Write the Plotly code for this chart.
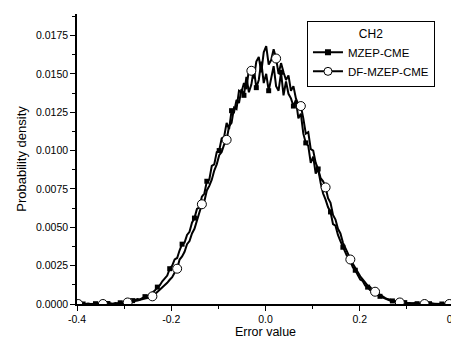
import plotly.graph_objects as go

# Histogram bin centres (error value)
error_value = [
    -0.39750, -0.39225, -0.38700, -0.38175, -0.37650, -0.37125, -0.36600, -0.36075, -0.35550, -0.35025,
    -0.34500, -0.33975, -0.33450, -0.32925, -0.32400, -0.31875, -0.31350, -0.30825, -0.30300, -0.29775,
    -0.29250, -0.28725, -0.28200, -0.27675, -0.27150, -0.26625, -0.26100, -0.25575, -0.25050, -0.24525,
    -0.24000, -0.23475, -0.22950, -0.22425, -0.21900, -0.21375, -0.20850, -0.20325, -0.19800, -0.19275,
    -0.18750, -0.18225, -0.17700, -0.17175, -0.16650, -0.16125, -0.15600, -0.15075, -0.14550, -0.14025,
    -0.13500, -0.12975, -0.12450, -0.11925, -0.11400, -0.10875, -0.10350, -0.09825, -0.09300, -0.08775,
    -0.08250, -0.07725, -0.07200, -0.06675, -0.06150, -0.05625, -0.05100, -0.04575, -0.04050, -0.03525,
    -0.03000, -0.02475, -0.01950, -0.01425, -0.00900, -0.00375, 0.00150, 0.00675, 0.01200, 0.01725,
    0.02250, 0.02775, 0.03300, 0.03825, 0.04350, 0.04875, 0.05400, 0.05925, 0.06450, 0.06975,
    0.07500, 0.08025, 0.08550, 0.09075, 0.09600, 0.10125, 0.10650, 0.11175, 0.11700, 0.12225,
    0.12750, 0.13275, 0.13800, 0.14325, 0.14850, 0.15375, 0.15900, 0.16425, 0.16950, 0.17475,
    0.18000, 0.18525, 0.19050, 0.19575, 0.20100, 0.20625, 0.21150, 0.21675, 0.22200, 0.22725,
    0.23250, 0.23775, 0.24300, 0.24825, 0.25350, 0.25875, 0.26400, 0.26925, 0.27450, 0.27975,
    0.28500, 0.29025, 0.29550, 0.30075, 0.30600, 0.31125, 0.31650, 0.32175, 0.32700, 0.33225,
    0.33750, 0.34275, 0.34800, 0.35325, 0.35850, 0.36375, 0.36900, 0.37425, 0.37950, 0.38475,
    0.39000, 0.39525,
]

mzep_cme = [
    0, 0.00002, 0, 0, 0.00003, 0, 0, 0.00002, 0, 0.00004,
    0, 0, 0.00003, 0.00005, 0.00002, 0.00006, 0.00004, 0.00008, 0.0001, 0.00009,
    0.00015, 0.00014, 0.00022, 0.00025, 0.00032, 0.0003, 0.00042, 0.00048, 0.00052, 0.00066,
    0.00075, 0.00088, 0.0011, 0.00122, 0.00148, 0.0017, 0.00185, 0.0023, 0.0025, 0.0029,
    0.0030, 0.0035, 0.0039, 0.0040, 0.0045, 0.0047, 0.0053, 0.0056, 0.0062, 0.0063,
    0.0070, 0.0072, 0.0080, 0.0081, 0.0090, 0.0091, 0.0099, 0.0100, 0.0108, 0.0109,
    0.0118, 0.0114, 0.0126, 0.0125, 0.0133, 0.0131, 0.0140, 0.0136, 0.0148, 0.0138,
    0.0143, 0.0153, 0.0141, 0.0146, 0.0158, 0.0144, 0.0150, 0.0139, 0.0147, 0.0155,
    0.0142, 0.0139, 0.0151, 0.0136, 0.0145, 0.0137, 0.0134, 0.0129, 0.0133, 0.0121,
    0.0124, 0.0111, 0.0105, 0.0103, 0.0092, 0.0096, 0.0085, 0.0088, 0.0079, 0.0072,
    0.0068, 0.0063, 0.0060, 0.0052, 0.0051, 0.0045, 0.0041, 0.0037, 0.0034, 0.0030,
    0.0028, 0.0024, 0.0022, 0.0019, 0.0016, 0.0015, 0.0012, 0.0011, 0.0009, 0.00085,
    0.0007, 0.00058, 0.0005, 0.00042, 0.00035, 0.0003, 0.00022, 0.0002, 0.00015, 0.00014,
    0.0001, 0.00007, 0.00009, 0.00005, 0.00007, 0.00003, 0.00006, 0.00002, 0.00004, 0,
    0.00003, 0, 0.00002, 0.00004, 0, 0, 0.00003, 0, 0, 0.00002,
    0, 0,
]

df_mzep_cme = [
    0, 0, 0, 0, 0, 0, 0.00002, 0, 0, 0,
    0, 0.00002, 0, 0, 0.00003, 0.00002, 0.00005, 0.00003, 0.00006, 0.00008,
    0.0001, 0.00012, 0.00016, 0.00019, 0.00022, 0.00028, 0.00031, 0.00036, 0.0004, 0.00047,
    0.0005, 0.00063, 0.00078, 0.00088, 0.00104, 0.00118, 0.00138, 0.00158, 0.00175, 0.00205,
    0.0023, 0.0029, 0.0031, 0.0034, 0.0039, 0.0041, 0.0046, 0.0049, 0.0054, 0.0060,
    0.0065, 0.0067, 0.0074, 0.0077, 0.0081, 0.0087, 0.0091, 0.0097, 0.0099, 0.0104,
    0.0107, 0.0116, 0.0118, 0.0128, 0.0127, 0.0139, 0.0138, 0.0144, 0.0140, 0.0153,
    0.0152, 0.0147, 0.0158, 0.0161, 0.0151, 0.0164, 0.0168, 0.0156, 0.0159, 0.0166,
    0.0160, 0.0150, 0.0157, 0.0151, 0.0146, 0.0149, 0.0139, 0.0142, 0.0134, 0.0130,
    0.0129, 0.0121, 0.0111, 0.0112, 0.0101, 0.0100, 0.0092, 0.0088, 0.0082, 0.0080,
    0.0076, 0.0069, 0.0066, 0.0058, 0.0055, 0.0049, 0.0046, 0.0040, 0.0037, 0.0033,
    0.0029, 0.0026, 0.0023, 0.0021, 0.0018, 0.0016, 0.0014, 0.0012, 0.0011, 0.0009,
    0.0008, 0.0007, 0.00055, 0.0005, 0.0004, 0.00032, 0.00028, 0.0002, 0.00018, 0.00012,
    0.0001, 0.00008, 0.00005, 0.00006, 0.00003, 0.00005, 0.00002, 0.00004, 0, 0.00002,
    0, 0.00003, 0, 0, 0.00002, 0, 0, 0, 0.00002, 0,
    0, 0,
]

# indices of points that carry symbols (Origin-style sparse markers)
mzep_marker_idx = list(range(2, len(error_value), 5))
df_marker_idx = list(range(0, len(error_value), 10))

y_ticks = [0.0, 0.0025, 0.005, 0.0075, 0.01, 0.0125, 0.015, 0.0175]
x_ticks = [-0.4, -0.2, 0.0, 0.2, 0.4]

FONT = "Liberation Sans, Arial, sans-serif"

fig = go.Figure()

fig.add_trace(go.Scatter(x=error_value, y=mzep_cme, mode="lines",
                         line=dict(color="black", width=2), showlegend=False, hoverinfo="skip"))
fig.add_trace(go.Scatter(x=error_value, y=df_mzep_cme, mode="lines",
                         line=dict(color="black", width=2), showlegend=False, hoverinfo="skip"))
fig.add_trace(go.Scatter(x=[error_value[i] for i in mzep_marker_idx],
                         y=[mzep_cme[i] for i in mzep_marker_idx], mode="markers",
                         marker=dict(symbol="square", size=5, color="black"),
                         showlegend=False, hoverinfo="skip"))
fig.add_trace(go.Scatter(x=[error_value[i] for i in df_marker_idx],
                         y=[df_mzep_cme[i] for i in df_marker_idx], mode="markers",
                         marker=dict(symbol="circle", size=9, color="white",
                                     line=dict(color="black", width=1)),
                         showlegend=False, hoverinfo="skip"))

# legend entries
fig.add_trace(go.Scatter(x=[None], y=[None], mode="lines+markers", name="MZEP-CME",
                         line=dict(color="black", width=2),
                         marker=dict(symbol="square", size=6, color="black")))
fig.add_trace(go.Scatter(x=[None], y=[None], mode="lines+markers", name="DF-MZEP-CME",
                         line=dict(color="black", width=2),
                         marker=dict(symbol="circle", size=8, color="white",
                                     line=dict(color="black", width=1))))

fig.update_layout(
    width=459, height=343,
    margin=dict(l=69, r=13, t=6, b=47, autoexpand=False),
    paper_bgcolor="white", plot_bgcolor="white",
    font=dict(family=FONT, size=11, color="black"),
    showlegend=True,
    legend=dict(
        title=dict(text="CH2", font=dict(size=12), side="top center"),
        x=0.61, y=0.975, xanchor="left", yanchor="top",
        bordercolor="black", borderwidth=1, bgcolor="white",
        font=dict(size=11.5), tracegroupgap=0, itemwidth=30,
    ),
    xaxis=dict(
        range=[-0.4, 0.4], tickvals=x_ticks, ticktext=[f"{v:.1f}" for v in x_ticks],
        showline=True, linecolor="black", linewidth=1.5, mirror=False,
        ticks="outside", ticklen=5, tickwidth=1.2, tickcolor="black",
        minor=dict(dtick=0.1, tick0=-0.4, ticks="outside", ticklen=3, tickcolor="black"),
        showgrid=False, zeroline=False,
        title=dict(text="Error value", font=dict(size=12.5), standoff=3),
        tickfont=dict(size=10.5),
    ),
    yaxis=dict(
        range=[0, 0.0189], tickvals=y_ticks, ticktext=[f"{v:.4f}" for v in y_ticks],
        showline=True, linecolor="black", linewidth=1.5, mirror=False,
        ticks="outside", ticklen=5, tickwidth=1.2, tickcolor="black",
        minor=dict(dtick=0.00125, tick0=0, ticks="outside", ticklen=3, tickcolor="black"),
        showgrid=False, zeroline=False,
        title=dict(text="Probability density", font=dict(size=13), standoff=6),
        tickfont=dict(size=10.5),
    ),
)

fig.write_html("out.html")
